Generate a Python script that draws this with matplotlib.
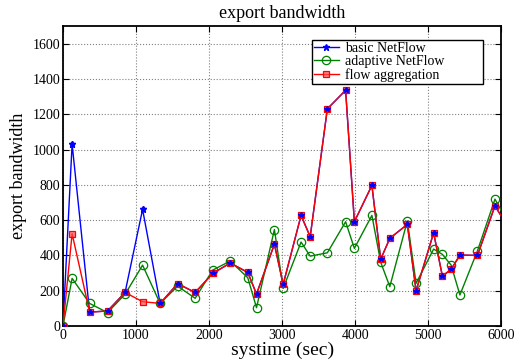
import numpy as np
import matplotlib
matplotlib.use("Agg")
import matplotlib.pyplot as plt

# sample times (sec)
systime = [0, 125, 365, 610, 850, 1090, 1330, 1570, 1810, 2050, 2290, 2530, 2650,
           2895, 3015, 3260, 3385, 3620, 3870, 3990, 4230, 4350, 4475, 4715,
           4835, 5075, 5195, 5315, 5435, 5675, 5915, 6155]

# export bandwidth per scheme
basic = [0, 1031, 79, 85, 190, 661, 128, 240, 190, 298, 357, 304, 181,
         464, 236, 627, 506, 1231, 1336, 591, 797, 378, 497, 576,
         200, 528, 283, 321, 402, 400, 681, 520]
adaptive = [0, 270, 128, 76, 180, 345, 128, 226, 157, 317, 368, 274, 104,
            547, 213, 476, 396, 415, 591, 440, 627, 362, 223, 596,
            242, 436, 406, 345, 176, 426, 719, 540]
aggregation = [0, 523, 79, 85, 190, 138, 128, 240, 190, 298, 357, 304, 181,
               464, 236, 627, 506, 1231, 1336, 591, 797, 378, 497, 576,
               200, 528, 283, 321, 402, 400, 681, 520]

plt.rcParams['font.family'] = ['Liberation Serif', 'DejaVu Serif']

fig = plt.figure(figsize=(5.27, 3.62), dpi=100)
ax = fig.add_axes([0.1195, 0.0994, 0.8315, 0.8286])

ax.plot(systime, basic, color='blue', lw=1.0, marker='*', ms=5, label='basic NetFlow', zorder=3)
ax.plot(systime, adaptive, color='green', lw=1.0, marker='o', ms=6, mfc='none', mew=0.9,
        label='adaptive NetFlow', zorder=4)
ax.plot(systime, aggregation, color='red', lw=1.0, marker='s', ms=5, mfc=(1, 0.3, 0.3, 0.7),
        mec='red', mew=0.9, label='flow aggregation', zorder=5)
# blue stars show through the red squares
ax.plot(systime, basic, color='blue', ls='none', marker='*', ms=4, zorder=6)

ax.set_xlim(0, 6000)
ax.set_ylim(0, 1700)
ax.set_xticks(np.arange(0, 6001, 1000))
ax.set_yticks(np.arange(0, 1601, 200))
ax.grid(True, ls=':', color='gray', lw=0.8)
ax.tick_params(direction='in', top=True, right=True, labelsize=10, length=4, pad=2)
for s in ax.spines.values():
    s.set_linewidth(1.3)

ax.set_title('export bandwidth', fontsize=13, pad=6)
ax.set_xlabel('systime (sec)', fontsize=14, labelpad=0)
ax.set_ylabel('export bandwidth', fontsize=13, labelpad=4)

leg = ax.legend(loc='upper left', bbox_to_anchor=(0.568, 0.953, 0.39, 0.0), mode='expand',
                fontsize=10, fancybox=False, edgecolor='black', framealpha=1,
                borderpad=0.15, labelspacing=0.0, handlelength=1.8, handletextpad=0.45,
                borderaxespad=0.0)
leg.get_frame().set_linewidth(1.0)

fig.savefig('out.png', dpi=100)
